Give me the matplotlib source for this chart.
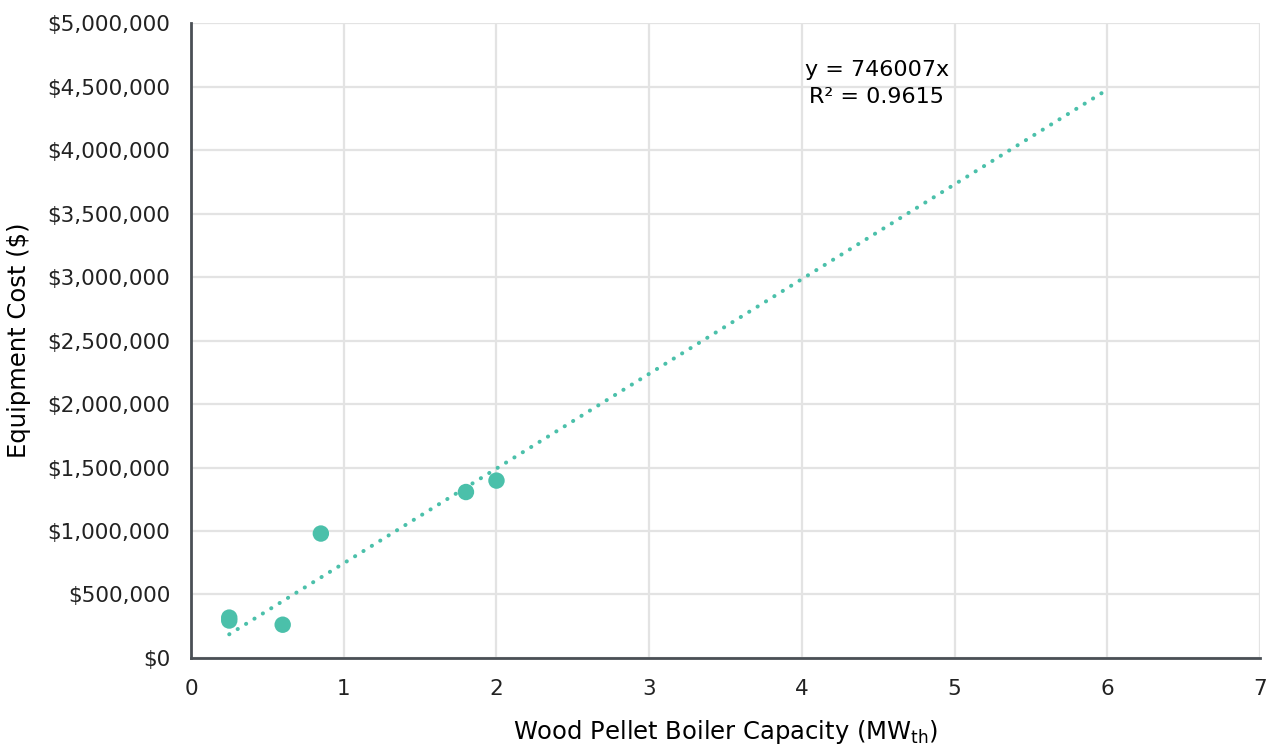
import numpy as np
import matplotlib.pyplot as plt
from matplotlib.ticker import FuncFormatter, MultipleLocator

plt.rcParams['font.family'] = ['DejaVu Sans']
plt.rcParams['mathtext.fontset'] = 'dejavusans'

# boiler capacity (MW_th) vs equipment cost ($)
capacity = [0.25, 0.25, 0.6, 0.85, 1.8, 2.0]
cost = [318000, 295000, 262000, 980000, 1307000, 1397000]

SLOPE = 746007
R2 = 0.9615
trend_x = [0.25, 6.0]

TEAL = '#4BC0AA'

fig = plt.figure(figsize=(12.67, 7.45), dpi=100)
ax = fig.add_axes([0.1508, 0.1168, 0.8437, 0.8522])

tx = np.array(trend_x)
ax.plot(tx, SLOPE * tx, linestyle=(0, (0.05, 2.4)), color=TEAL, lw=2.9,
        dash_capstyle='round', zorder=2)
ax.scatter(capacity, cost, s=140, color=TEAL, edgecolors='none', zorder=3)

ax.text(4.49, 4.63e6, f'y = {SLOPE}x', ha='center', va='center', fontsize=16)
ax.text(4.49, 4.42e6, f'R² = {R2}', ha='center', va='center', fontsize=16)

ax.set_xlim(0, 7)
ax.set_ylim(0, 5e6)
ax.xaxis.set_major_locator(MultipleLocator(1))
ax.yaxis.set_major_locator(MultipleLocator(500000))
ax.yaxis.set_major_formatter(FuncFormatter(lambda v, p: f'${v:,.0f}'))

ax.grid(True, color='#e3e3e3', lw=1.6)
ax.set_axisbelow(True)
for s in ['top', 'right']:
    ax.spines[s].set_visible(False)
for s in ['left', 'bottom']:
    ax.spines[s].set_color('#4a4f55')
    ax.spines[s].set_linewidth(2)
ax.tick_params(length=0, labelsize=15.5, colors='#222222')
ax.tick_params(axis='y', pad=15)
ax.tick_params(axis='x', pad=15)

ax.set_xlabel('Wood Pellet Boiler Capacity (MW$_{\\mathrm{th}}$)', fontsize=17.5, labelpad=14)
ax.set_ylabel('Equipment Cost ($)', fontsize=17.5, labelpad=12)

fig.savefig('out.png', dpi=100)
